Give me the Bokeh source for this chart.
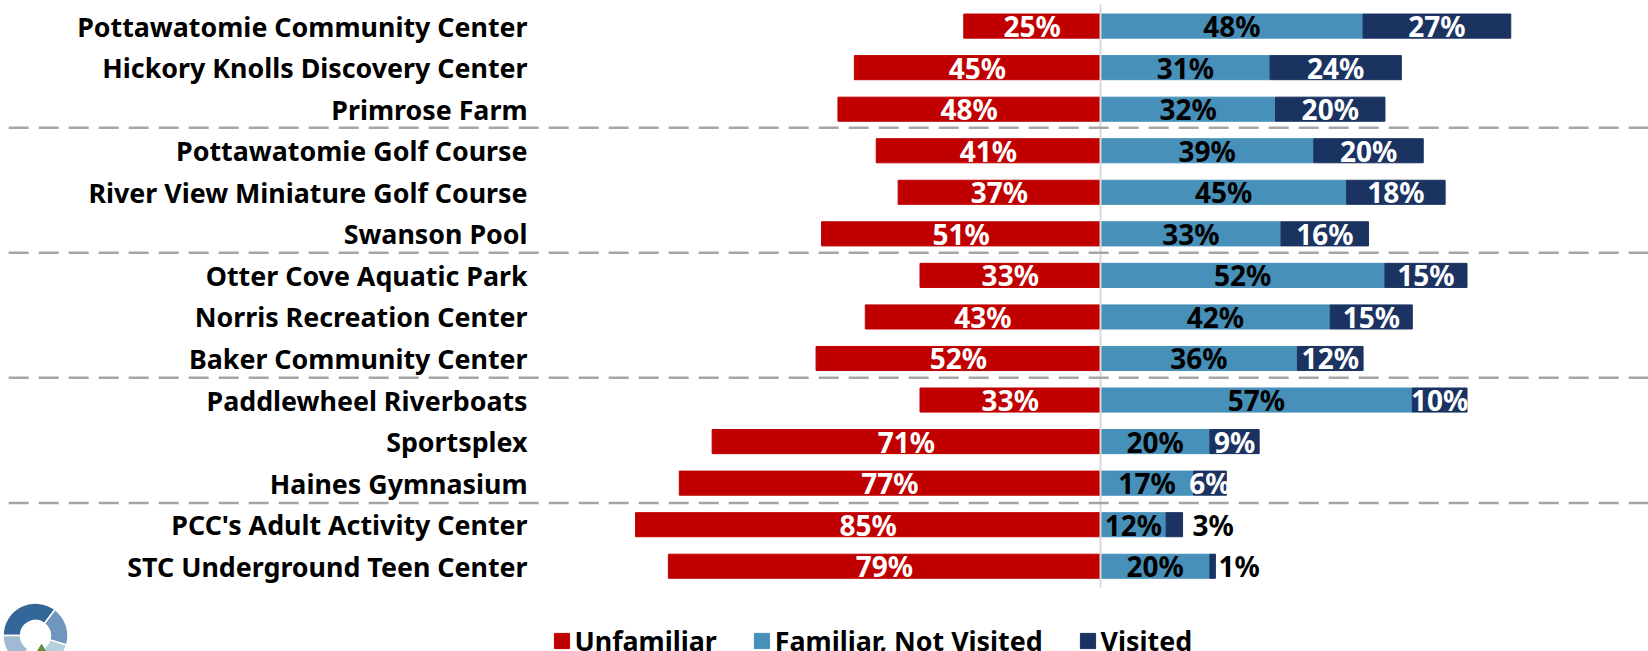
from bokeh.plotting import figure
from bokeh.embed import file_html
from bokeh.resources import INLINE
from bokeh.models import Range1d, FixedTicker, Legend, LegendItem, ColumnDataSource
from bokeh.core.properties import value

venues = ["Pottawatomie Community Center", "Hickory Knolls Discovery Center", "Primrose Farm",
          "Pottawatomie Golf Course", "River View Miniature Golf Course", "Swanson Pool",
          "Otter Cove Aquatic Park", "Norris Recreation Center", "Baker Community Center",
          "Paddlewheel Riverboats", "Sportsplex", "Haines Gymnasium",
          "PCC's Adult Activity Center", "STC Underground Teen Center"]
unfamiliar = [25, 45, 48, 41, 37, 51, 33, 43, 52, 33, 71, 77, 85, 79]
familiar = [48, 31, 32, 39, 45, 33, 52, 42, 36, 57, 20, 17, 12, 20]
visited = [27, 24, 20, 20, 18, 16, 15, 15, 12, 10, 9, 6, 3, 1]
group_breaks = [2.445, 5.456, 8.466, 11.477]
series_names = ["Unfamiliar", "Familiar, Not Visited", "Visited"]
series_colors = ["#C00000", "#4790BA", "#1B3361"]
logo_start = [180, 53, -17, 240]
logo_end = [53, -17, -62, 180]
logo_colors = ["#336699", "#7096BD", "#B5CFDD", "#A0BAD3"]

FONT = "Noto Sans"
SIZE = "26.8px"
LABEL = "28px"
n = len(venues)
rows = list(range(n))

p = figure(width=1648, height=651, output_backend="svg", toolbar_location=None,
           x_range=Range1d(-201.1, 100.18), y_range=Range1d(15.052, -0.616),
           min_border=0, min_border_left=0, min_border_right=0, min_border_top=0, min_border_bottom=0,
           outline_line_color=None, background_fill_color="white", x_axis_location=None)
p.grid.visible = False

yax = p.yaxis[0]
yax.fixed_location = -104.75
yax.ticker = FixedTicker(ticks=rows)
yax.major_label_overrides = {i: v for i, v in enumerate(venues)}
yax.axis_line_color = None
yax.major_tick_line_color = None
yax.minor_tick_line_color = None
yax.major_tick_out = 0
yax.major_tick_in = 0
yax.major_label_standoff = 0
yax.major_label_text_font = FONT
yax.major_label_text_font_style = "bold"
yax.major_label_text_font_size = SIZE
yax.major_label_text_color = "black"

H = 0.58
f_end = [f + v for f, v in zip(familiar, visited)]
r0 = p.hbar(y=rows, left=[-u for u in unfamiliar], right=0, height=H, color=series_colors[0])
r1 = p.hbar(y=rows, left=0, right=familiar, height=H, color=series_colors[1])
r2 = p.hbar(y=rows, left=familiar, right=f_end, height=H, color=series_colors[2])

p.segment(x0=0, x1=0, y0=-0.52, y1=13.51, line_color="#D9D9D9", line_width=2)
p.segment(x0=-199.6, x1=101, y0=group_breaks, y1=group_breaks, line_color="#A6A6A6", line_width=2.5, line_dash="20 10")

def labels(xs, vals, color, y=rows, **kw):
    src = ColumnDataSource(dict(x=xs, y=list(y), t=[f"{v}%" for v in vals]))
    p.text(x="x", y="y", text="t", source=src, text_color=color, text_font=value(FONT), text_font_style="bold",
           text_font_size=LABEL, text_baseline="middle", **kw)

labels([-u / 2 for u in unfamiliar], unfamiliar, "white", text_align="center")
labels([f / 2 for f in familiar], familiar, "black", text_align="center")
inside = [i for i in rows if visited[i] >= 6]
labels([familiar[i] + visited[i] / 2 for i in inside], [visited[i] for i in inside], "white", y=inside, text_align="center")
labels([f_end[12]], [visited[12]], "black", y=[12], text_align="left", x_offset=10)
labels([f_end[13]], [visited[13]], "black", y=[13], text_align="left", x_offset=3)

# logo
p.annular_wedge(x=[-194.7] * 4, y=[14.667] * 4, inner_radius=15, outer_radius=32.5,
                inner_radius_units="screen", outer_radius_units="screen",
                start_angle=logo_end, end_angle=logo_start, start_angle_units="deg", end_angle_units="deg",
                color=logo_colors, line_color="white", line_width=1.5)
p.scatter(x=[-193.6], y=[14.99], size=8, marker="triangle", color="#5F9136")

leg = Legend(items=[LegendItem(label=n_, renderers=[r]) for n_, r in zip(series_names, [r0, r1, r2])],
             orientation="horizontal", location=(551.5, -8), background_fill_alpha=0, border_line_color=None,
             glyph_width=19, glyph_height=19, label_standoff=4, spacing=35, padding=8, margin=0,
             label_text_font=FONT, label_text_font_style="bold", label_text_font_size=SIZE,
             label_text_color="black", label_height=20)
p.add_layout(leg, "center")

html = file_html(p, INLINE)
open("out.html", "w").write(html)
